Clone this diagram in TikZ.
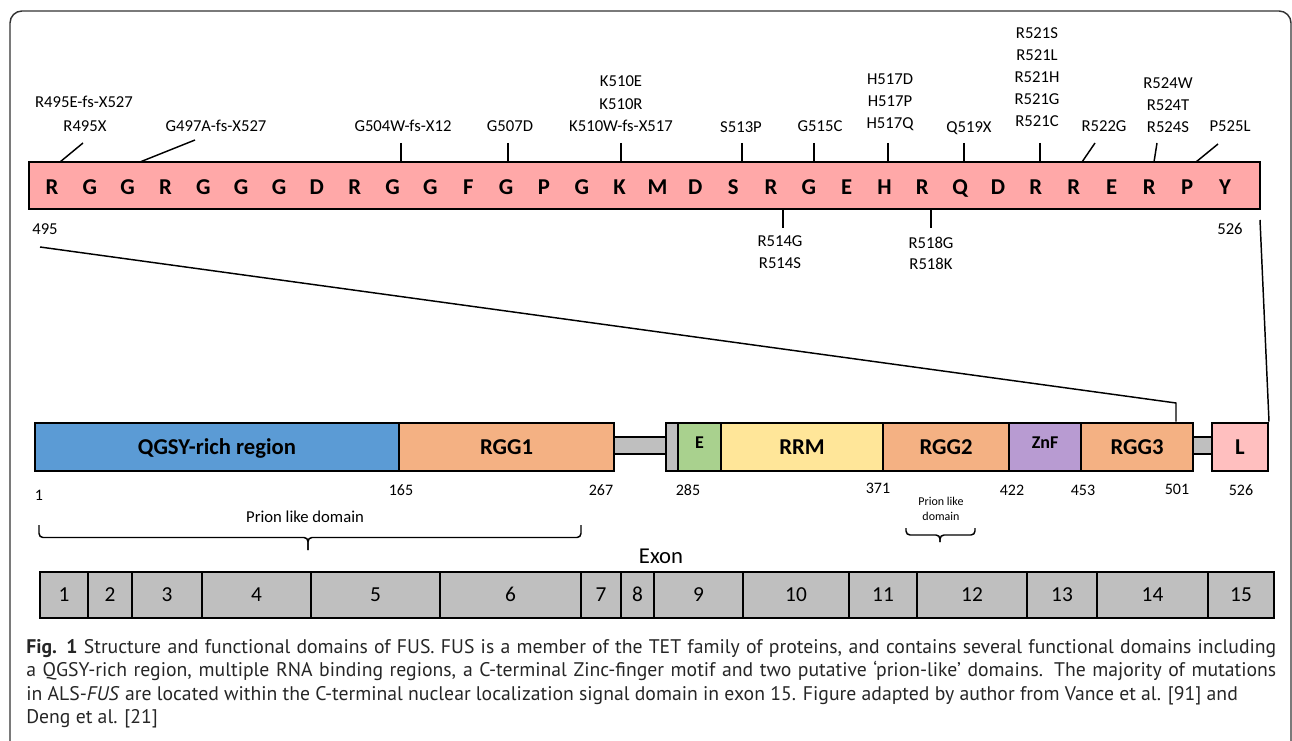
\documentclass[tikz,border=0pt]{standalone}
\usepackage{fontspec}
\setmainfont{Carlito}
\newfontfamily\capfont{PT Sans}
\usetikzlibrary{calc}
\definecolor{seqpink}{HTML}{FFA8A8}
\definecolor{qblue}{HTML}{5B9BD5}
\definecolor{rggor}{HTML}{F4B183}
\definecolor{egreen}{HTML}{A9D18E}
\definecolor{ryellow}{HTML}{FFE699}
\definecolor{zpurple}{HTML}{B89BD2}
\definecolor{lpink}{HTML}{FFBFBF}
\definecolor{lgrey}{HTML}{BFBFBF}
\newsavebox\capmeasure
\newlength\capw
\begin{document}
\sbox\capmeasure{\capfont\fontsize{10}{12}\selectfont\textbf{Fig. 1} Structure and functional domains of FUS. FUS is a member of the TET family of proteins, and contains several functional domains including}%
\setlength\capw{\wd\capmeasure}%
\pgfmathsetmacro\capsize{0.98*10*937.5/\capw}%
\begin{tikzpicture}[x=0.75pt,y=-0.75pt,
  seqbar/.style={draw, line width=1.5pt, fill=seqpink, inner sep=0pt},
  aa/.style={font=\fontsize{17}{20}\selectfont\bfseries, inner sep=0pt, anchor=base},
  mut/.style={font=\fontsize{12.5}{15}\selectfont, inner sep=0pt, anchor=base},
  tick/.style={line width=1.1pt},
  dom/.style={draw, line width=1.5pt, inner sep=0pt, minimum height=36.4pt, font=\fontsize{17}{20}\selectfont\bfseries, text height=10.5pt, text depth=0pt},
  domsmall/.style={draw, line width=1.5pt, inner sep=0pt, minimum height=36.4pt, font=\fontsize{13.5}{15}\selectfont\bfseries, text height=8.7pt, text depth=7.2pt},
  linker/.style={draw, line width=1.5pt, fill=lgrey, inner sep=0pt, minimum height=12.75pt},
  num/.style={font=\fontsize{12}{14}\selectfont, inner sep=0pt, anchor=base},
  exon/.style={draw, line width=1.5pt, fill=lgrey, inner sep=0pt, minimum height=34.5pt, font=\fontsize{16}{19}\selectfont, text height=10.2pt, text depth=0pt},
  brace/.style={line width=1.1pt, rounded corners=3pt},
  frame/.style={line width=1.1pt, draw=black!80, rounded corners=9pt},
  capline/.style={anchor=base west, inner sep=0pt, text=black!85}
]
\useasboundingbox (0,0) rectangle (1292,741);
% outer frame
\draw[frame] (10,780) -- (10,11) -- (1291,11) -- (1291,780);

% ---------- sequence bar ----------
\node[seqbar, minimum width=923.25pt, minimum height=35.25pt] (seq) at (644.5,185.5) {};
\foreach \L [count=\i from 0] in {R,G,G,R,G,G,G,D,R,G,G,F,G,P,G,K,M,D,S,R,G,E,H,R,Q,D,R,R,E,R,P,Y}
  \node[aa] (aa\i) at ({52+37.84*\i},195) {\L};

% mutation labels above
\node[mut] (m495a) at (84,108) {R495E-fs-X527};
\node[mut] (m495b) at (85,132) {R495X};
\node[mut] (m497) at (216,132) {G497A-fs-X527};
\node[mut] (m504) at (403,132) {G504W-fs-X12};
\node[mut] (m507) at (510,132) {G507D};
\node[mut] (m510a) at (621,87) {K510E};
\node[mut] (m510b) at (621,109.5) {K510R};
\node[mut] (m510c) at (621,132) {K510W-fs-X517};
\node[mut] (m513) at (741,132.5) {S513P};
\node[mut] (m515) at (820,132) {G515C};
\node[mut] (m517a) at (890,85) {H517D};
\node[mut] (m517b) at (890,107) {H517P};
\node[mut] (m517c) at (890,128.5) {H517Q};
\node[mut] (m519) at (969,132.5) {Q519X};
\node[mut] (m521a) at (1037,38.5) {R521S};
\node[mut] (m521b) at (1037,60.5) {R521L};
\node[mut] (m521c) at (1037,82.5) {R521H};
\node[mut] (m521d) at (1037,104.5) {R521G};
\node[mut] (m521e) at (1037,126.5) {R521C};
\node[mut] (m522) at (1104,132) {R522G};
\node[mut] (m524a) at (1168,89) {R524W};
\node[mut] (m524b) at (1168,111) {R524T};
\node[mut] (m524c) at (1168,132.5) {R524S};
\node[mut] (m525) at (1230,132) {P525L};
% mutation labels below
\node[mut] (m514a) at (780,246.7) {R514G};
\node[mut] (m514b) at (780,268.7) {R514S};
\node[mut] (m518a) at (931,248.3) {R518G};
\node[mut] (m518b) at (931,270) {R518K};
\node[mut] (s495) at (45,235) {495};
\node[mut] (s526) at (1230,235) {526};

% ticks above
\coordinate (t495) at (83,143);   \draw[tick] (t495) -- (60,162);
\coordinate (t497) at (195,140);  \draw[tick] (t497) -- (140,162);
\foreach \nm/\x in {t504/401, t507/508, t510/621, t513/742, t515/814, t517/888, t519/964, t521/1040} {
  \coordinate (\nm) at (\x,143);
  \draw[tick] (\nm) -- (\nm |- seq.north);
}
\coordinate (t522) at (1095,143); \draw[tick] (t522) -- (1082,162);
\coordinate (t524) at (1157,143); \draw[tick] (t524) -- (1154,162);
\coordinate (t525) at (1218,144); \draw[tick] (t525) -- (1196,162);
% ticks below
\coordinate (t514) at (783,228); \draw[tick] (t514) -- (t514 |- seq.south);
\coordinate (t518) at (931,228); \draw[tick] (t518) -- (t518 |- seq.south);

% ---------- domain bar ----------
\node[linker, minimum width=39pt] (lk1) at (640,445.5) {};
\node[linker, minimum width=14.25pt] (lk2) at (1202.5,445.5) {};
\node[dom, fill=qblue, minimum width=273pt] (qgsy) at (217,447) {QGSY-rich region};
\node[dom, fill=rggor, minimum width=161.25pt] (rgg1) at (506.5,447) {RGG1};
\node[dom, fill=lgrey, minimum width=9pt] (gapbox) at (672,447) {};
\node[domsmall, fill=egreen, minimum width=32.25pt] (edom) at (699.5,447) {E};
\node[dom, fill=ryellow, minimum width=121.5pt] (rrm) at (802,447) {RRM};
\node[dom, fill=rggor, minimum width=94.5pt] (rgg2) at (946,447) {RGG2};
\node[domsmall, fill=zpurple, minimum width=54pt] (znf) at (1045,447) {ZnF};
\node[dom, fill=rggor, minimum width=84pt] (rgg3) at (1137,447) {RGG3};
\node[dom, fill=lpink, minimum width=42pt] (ldom) at (1240,447) {L};

% zoom connectors
\coordinate (p495) at (40,247);
\coordinate (bend) at (1176,403);
\draw[tick] (p495) -- (bend) -- (bend |- rgg3.north);
\coordinate (p526) at (1260,220);
\draw[tick] (p526) -- (ldom.north east);

% residue numbers
\node[num] (n1) at (39,500) {1};
\node[num] (n165) at (401,495) {165};
\node[num] (n267) at (601,495) {267};
\node[num] (n285) at (688,495) {285};
\node[num] (n371) at (878,493) {371};
\node[num] (n422) at (1012,495) {422};
\node[num] (n453) at (1083,495) {453};
\node[num] (n501) at (1177,494) {501};
\node[num] (n526) at (1241,495) {526};

% prion-like domains
\node[anchor=base, inner sep=0pt, font=\fontsize{12.5}{15}\selectfont] (pld1) at (305,522.7) {Prion like domain};
\draw[brace] (39,525) -- (39,537.5) -- (308,537.5) -- (308,550);
\draw[brace] (581,525) -- (581,537.5) -- (308,537.5) -- (308,550);
\node[anchor=base, inner sep=0pt, font=\fontsize{9}{11}\selectfont] (pld2a) at (941,505) {Prion like};
\node[anchor=base, inner sep=0pt, font=\fontsize{9}{11}\selectfont] (pld2b) at (941,520) {domain};
\draw[brace] (906,528) -- (906,535) -- (940,535) -- (940,542);
\draw[brace] (975,528) -- (975,535) -- (940,535) -- (940,542);

% ---------- exons ----------
\node[anchor=base, inner sep=0pt, font=\fontsize{17}{20}\selectfont] (exonlbl) at (661,563) {Exon};
\foreach \a/\b/\t in {40/88/1, 88/132/2, 132/202/3, 202/311/4, 311/440/5, 440/581/6, 581/621/7, 621/654/8, 654/743/9, 743/849/10, 849/917/11, 917/1027/12, 1027/1097/13, 1097/1208/14, 1208/1274/15} {
  \pgfmathsetmacro\w{(\b-\a)*0.75}
  \pgfmathsetmacro\c{(\a+\b)/2}
  \node[exon, minimum width=\w pt] (ex\t) at (\c,595) {\t};
}

% ---------- caption ----------
\node[capline] (cap1) at (26,653.3) {\capfont\fontsize{\capsize}{\capsize}\selectfont\makebox[937.5pt][s]{\textbf{Fig. 1} Structure and functional domains of FUS. FUS is a member of the TET family of proteins, and contains several functional domains including}};
\node[capline] (cap2) at (26,676.7) {\capfont\fontsize{\capsize}{\capsize}\selectfont\makebox[937.5pt][s]{a QGSY-rich region, multiple RNA binding regions, a C-terminal Zinc-finger motif and two putative ‘prion-like’ domains. The majority of mutations}};
\node[capline] (cap3) at (26,700) {\capfont\fontsize{\capsize}{\capsize}\selectfont in ALS-\textit{FUS} are located within the C-terminal nuclear localization signal domain in exon 15. Figure adapted by author from Vance et al. [91] and};
\node[capline] (cap4) at (26,723.3) {\capfont\fontsize{\capsize}{\capsize}\selectfont Deng et al. [21]};
\end{tikzpicture}
\end{document}
